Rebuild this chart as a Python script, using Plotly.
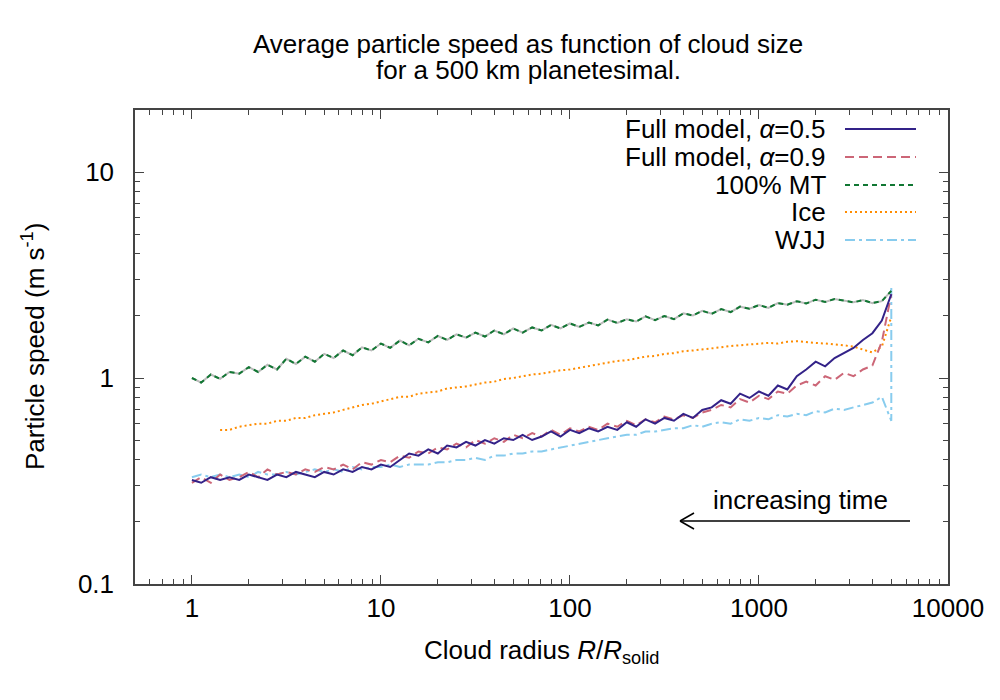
import plotly.graph_objects as go

# cloud radius R/R_solid, shared by all runs
radius = [1.00, 1.12, 1.26, 1.41, 1.58, 1.78, 2.00, 2.24, 2.51, 2.82,
          3.16, 3.55, 3.98, 4.47, 5.01, 5.62, 6.31, 7.08, 7.94, 8.91,
          10.0, 11.2, 12.6, 14.1, 15.8, 17.8, 20.0, 22.4, 25.1, 28.2,
          31.6, 35.5, 39.8, 44.7, 50.1, 56.2, 63.1, 70.8, 79.4, 89.1,
          100, 112, 126, 141, 158, 178, 200, 224, 251, 282,
          316, 355, 398, 447, 501, 562, 631, 708, 794, 891,
          1000, 1122, 1259, 1413, 1585, 1778, 1995, 2239, 2512, 2818,
          3162, 3548, 3981, 4467, 5012]

# particle speed (m/s)
full_a05 = [0.32, 0.31, 0.33, 0.32, 0.33, 0.32, 0.34, 0.33, 0.32, 0.34,
            0.33, 0.35, 0.34, 0.33, 0.35, 0.34, 0.36, 0.35, 0.37, 0.36,
            0.38, 0.37, 0.40, 0.43, 0.42, 0.45, 0.43, 0.47, 0.46, 0.49,
            0.47, 0.50, 0.48, 0.51, 0.50, 0.53, 0.50, 0.52, 0.55, 0.52,
            0.56, 0.54, 0.57, 0.55, 0.58, 0.56, 0.61, 0.58, 0.63, 0.60,
            0.64, 0.62, 0.67, 0.64, 0.70, 0.72, 0.78, 0.75, 0.84, 0.80,
            0.86, 0.82, 0.92, 0.88, 1.02, 1.10, 1.20, 1.14, 1.25, 1.32,
            1.40, 1.53, 1.65, 1.90, 2.55]

full_a09 = [0.31, 0.33, 0.31, 0.34, 0.32, 0.33, 0.35, 0.33, 0.36, 0.34,
            0.35, 0.34, 0.36, 0.35, 0.37, 0.36, 0.38, 0.36, 0.39, 0.38,
            0.40, 0.39, 0.42, 0.41, 0.44, 0.43, 0.46, 0.45, 0.48, 0.46,
            0.50, 0.48, 0.51, 0.49, 0.53, 0.51, 0.54, 0.52, 0.56, 0.53,
            0.57, 0.55, 0.58, 0.56, 0.60, 0.58, 0.62, 0.59, 0.63, 0.61,
            0.65, 0.63, 0.66, 0.64, 0.68, 0.70, 0.74, 0.72, 0.79, 0.76,
            0.82, 0.79, 0.86, 0.84, 0.92, 0.96, 0.92, 1.02, 0.98, 1.06,
            1.02, 1.10, 1.15, 1.50, 2.55]

mt100 = [1.00, 0.95, 1.04, 0.99, 1.07, 1.05, 1.13, 1.07, 1.16, 1.10,
         1.24, 1.17, 1.27, 1.20, 1.31, 1.25, 1.36, 1.29, 1.41, 1.36,
         1.47, 1.40, 1.52, 1.44, 1.55, 1.49, 1.60, 1.53, 1.63, 1.57,
         1.66, 1.59, 1.70, 1.63, 1.74, 1.66, 1.76, 1.70, 1.81, 1.74,
         1.84, 1.77, 1.86, 1.80, 1.92, 1.85, 1.93, 1.88, 1.99, 1.91,
         2.00, 1.93, 2.06, 2.01, 2.12, 2.05, 2.16, 2.09, 2.22, 2.17,
         2.26, 2.19, 2.31, 2.27, 2.36, 2.30, 2.40, 2.34, 2.42, 2.37,
         2.33, 2.39, 2.31, 2.36, 2.65]

# ice run starts at R = 1.41
ice = [None, None, None, 0.56, 0.56, 0.58, 0.59, 0.60, 0.60, 0.62,
       0.62, 0.64, 0.64, 0.66, 0.67, 0.68, 0.70, 0.72, 0.74, 0.75,
       0.77, 0.79, 0.81, 0.81, 0.84, 0.85, 0.86, 0.89, 0.90, 0.91,
       0.93, 0.95, 0.96, 0.99, 1.00, 1.02, 1.04, 1.05, 1.07, 1.09,
       1.10, 1.12, 1.14, 1.16, 1.18, 1.21, 1.22, 1.25, 1.27, 1.28,
       1.31, 1.32, 1.35, 1.36, 1.38, 1.39, 1.41, 1.43, 1.44, 1.45,
       1.46, 1.48, 1.47, 1.50, 1.51, 1.49, 1.48, 1.47, 1.46, 1.44,
       1.42, 1.37, 1.33, 1.42, 1.98]

# WJJ ends with a jump at the initial cloud size
wjj = [0.33, 0.34, 0.33, 0.34, 0.33, 0.34, 0.33, 0.35, 0.34, 0.34,
       0.35, 0.34, 0.35, 0.36, 0.35, 0.36, 0.35, 0.37, 0.36, 0.37,
       0.37, 0.38, 0.37, 0.38, 0.38, 0.38, 0.39, 0.39, 0.40, 0.40,
       0.41, 0.40, 0.42, 0.42, 0.43, 0.43, 0.44, 0.44, 0.45, 0.46,
       0.47, 0.48, 0.49, 0.50, 0.51, 0.52, 0.53, 0.53, 0.55, 0.55,
       0.56, 0.57, 0.57, 0.59, 0.58, 0.60, 0.61, 0.60, 0.63, 0.62,
       0.64, 0.63, 0.66, 0.65, 0.67, 0.66, 0.69, 0.68, 0.71, 0.70,
       0.72, 0.74, 0.76, 0.81, 0.62, 2.75]
wjj_radius = radius + [radius[-1]]

legend_labels = ["Full model, <i>α</i>=0.5", "Full model, <i>α</i>=0.9",
                 "100% MT", "Ice", "WJJ"]
colors = ["#332288", "#CC6677", "#117733", "#FF8C00", "#88CCEE"]
dashes = ["solid", "9px,5px", "5px,4px", "2px,3px", "10px,4px,3px,4px"]

FONT = "Liberation Sans, Arial, sans-serif"
FS = 26

# plot area in pixels (1000x700 page)
L, R, T, B = 135, 948, 110, 584


def px(x):
    return (x - L) / (R - L)


def py(y):
    return (B - y) / (B - T)


def text_at(x, y, text, xanchor="center", **kw):
    return dict(x=px(x), y=py(y), xref="paper", yref="paper", text=text, showarrow=False,
                xanchor=xanchor, yanchor="middle",
                font=dict(size=FS, color="black", family=FONT), **kw)


fig = go.Figure()

# grey line underneath the 100% MT curve
fig.add_trace(go.Scatter(x=radius, y=mt100, mode="lines",
                         line=dict(color="#BBBBBB", width=2), showlegend=False))

series = [(radius, full_a05), (radius, full_a09), (radius, mt100), (radius, ice), (wjj_radius, wjj)]
order = [4, 3, 2, 1, 0]
for i in order:
    xs, ys = series[i]
    fig.add_trace(go.Scatter(x=xs, y=ys, mode="lines", name=legend_labels[i],
                             line=dict(color=colors[i], width=2, dash=dashes[i]),
                             connectgaps=False, showlegend=False))

shapes = []
annotations = []

# hand-made legend, gnuplot style: text on the left, sample on the right
rows = [129, 157, 185, 212, 240]
for i, yrow in enumerate(rows):
    annotations.append(text_at(828, yrow, legend_labels[i], xanchor="right"))
    shapes.append(dict(type="line", xref="paper", yref="paper",
                       x0=px(845), x1=px(916), y0=py(yrow), y1=py(yrow),
                       line=dict(color=colors[i], width=2, dash=dashes[i])))

# arrow "increasing time"
arrow = dict(color="black", width=1.5)
shapes.append(dict(type="line", xref="paper", yref="paper", x0=px(910), x1=px(680),
                   y0=py(521), y1=py(521), line=arrow))
shapes.append(dict(type="line", xref="paper", yref="paper", x0=px(680), x1=px(694),
                   y0=py(521), y1=py(513), line=arrow))
shapes.append(dict(type="line", xref="paper", yref="paper", x0=px(680), x1=px(694),
                   y0=py(521), y1=py(529), line=arrow))
annotations.append(text_at(800, 500, "increasing time"))

# title
annotations.append(text_at(528, 44, "Average particle speed as function of cloud size"))
annotations.append(text_at(528, 70, "for a 500 km planetesimal."))

# axis titles
annotations.append(text_at(541, 651, "Cloud radius <i>R</i>/<i>R</i><sub>solid</sub>"))
annotations.append(text_at(33, 347, "Particle speed (m s<sup>-1</sup>)", textangle=-90))

minor_x = [m * 10 ** e for e in range(-1, 4) for m in range(2, 10)]
minor_y = [m * 10 ** e for e in range(-1, 2) for m in range(2, 10)]

fig.update_layout(
    width=1000, height=700,
    paper_bgcolor="white", plot_bgcolor="white",
    margin=dict(l=L, r=1000 - R, t=T, b=700 - B),
    font=dict(family=FONT, size=FS, color="black"),
    shapes=shapes, annotations=annotations,
    showlegend=False,
)

axis_common = dict(type="log", showgrid=False, zeroline=False, showline=True,
                   linecolor="#444444", linewidth=1.5, mirror="allticks",
                   ticks="inside", ticklen=9, tickwidth=1, tickcolor="#444444",
                   tickfont=dict(size=FS, color="black", family=FONT))

fig.update_xaxes(range=[-0.30103, 4], tickvals=[1, 10, 100, 1000, 10000],
                 ticktext=["1", "10", "100", "1000", "10000"], ticklabelstandoff=0,
                 minor=dict(tickvals=minor_x, ticks="inside", ticklen=5, tickcolor="#444444", showgrid=False),
                 **axis_common)
fig.update_yaxes(range=[-1, 1.30103], tickvals=[0.1, 1, 10],
                 ticktext=["0.1", "1", "10"], ticklabelstandoff=14,
                 minor=dict(tickvals=minor_y, ticks="inside", ticklen=5, tickcolor="#444444", showgrid=False),
                 **axis_common)

# the page body has a default 8px margin; drop it so the figure sits at (0, 0)
fig.write_html("out.html", config={"displayModeBar": False},
               post_script="document.body.style.margin='0';")
